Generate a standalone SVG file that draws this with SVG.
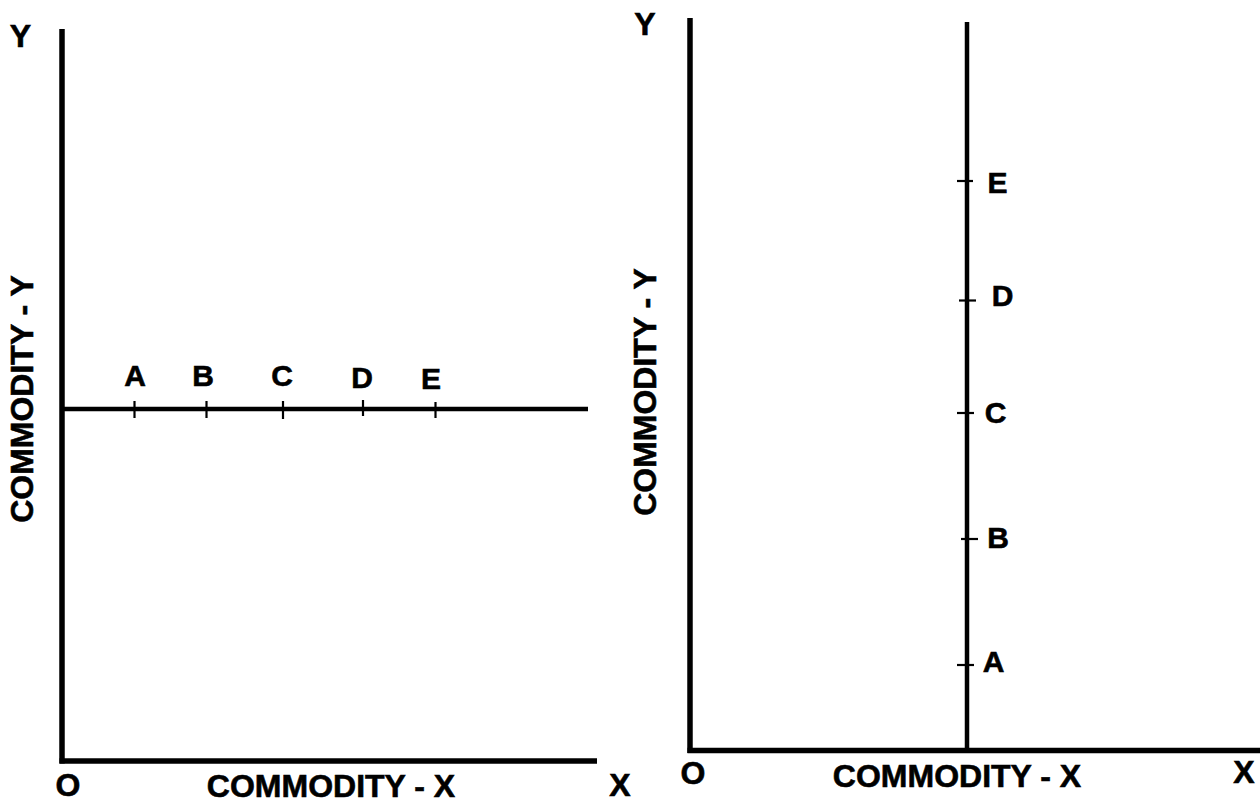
<svg xmlns="http://www.w3.org/2000/svg" width="1260" height="802" viewBox="0 0 1260 802">
<style>
.ax{stroke:#000;stroke-width:5.5;fill:none;stroke-linecap:butt}
.ln{stroke:#000;stroke-width:4.5;fill:none}
.tk{stroke:#000;stroke-width:2.2;fill:none}
text{font-family:"Liberation Sans",Arial,sans-serif;font-weight:bold;fill:#000;stroke:#000;stroke-width:0.6}
.big{font-size:32px}
.pt{font-size:30px}
</style>
<rect width="1260" height="802" fill="#fff"/>
<g id="left-chart">
  <g id="left-axes">
    <line class="ax" x1="62" y1="29" x2="62" y2="763.5"/>
    <line class="ax" x1="59.5" y1="761" x2="597" y2="761"/>
  </g>
  <g id="left-line">
    <line class="ln" x1="62" y1="409" x2="588" y2="409"/>
    <line class="tk" x1="134.5" y1="401" x2="134.5" y2="418"/>
    <line class="tk" x1="206.5" y1="401" x2="206.5" y2="418"/>
    <line class="tk" x1="283" y1="401" x2="283" y2="419"/>
    <line class="tk" x1="363" y1="400" x2="363" y2="416"/>
    <line class="tk" x1="435.5" y1="402" x2="435.5" y2="418"/>
  </g>
  <g id="left-labels">
    <text class="big" x="20.5" y="47" text-anchor="middle">Y</text>
    <text class="big" x="68" y="796" text-anchor="middle">O</text>
    <text class="big" x="331" y="797" text-anchor="middle">COMMODITY - X</text>
    <text class="big" x="620" y="796" text-anchor="middle">X</text>
    <text class="big" transform="translate(33,399) rotate(-90)" text-anchor="middle">COMMODITY - Y</text>
    <text class="pt" x="135" y="386" text-anchor="middle">A</text>
    <text class="pt" x="203" y="386" text-anchor="middle">B</text>
    <text class="pt" x="282" y="386" text-anchor="middle">C</text>
    <text class="pt" x="362" y="388" text-anchor="middle">D</text>
    <text class="pt" x="431" y="389" text-anchor="middle">E</text>
  </g>
</g>
<g id="right-chart">
  <g id="right-axes">
    <line class="ax" x1="690" y1="18" x2="690" y2="753"/>
    <line class="ax" x1="687.5" y1="750.5" x2="1260" y2="750.5"/>
  </g>
  <g id="right-line">
    <line class="ln" x1="967" y1="22" x2="967" y2="750"/>
    <line class="tk" x1="957" y1="181" x2="973" y2="181"/>
    <line class="tk" x1="959" y1="300.5" x2="976" y2="300.5"/>
    <line class="tk" x1="957" y1="413" x2="974" y2="413"/>
    <line class="tk" x1="961" y1="539" x2="978" y2="539"/>
    <line class="tk" x1="957" y1="665" x2="974" y2="665"/>
  </g>
  <g id="right-labels">
    <text class="big" x="645" y="35" text-anchor="middle">Y</text>
    <text class="big" x="693" y="784" text-anchor="middle">O</text>
    <text class="big" x="957" y="787" text-anchor="middle">COMMODITY - X</text>
    <text class="big" x="1244" y="783" text-anchor="middle">X</text>
    <text class="big" transform="translate(656,392) rotate(-90)" text-anchor="middle">COMMODITY - Y</text>
    <text class="pt" x="997.5" y="193" text-anchor="middle">E</text>
    <text class="pt" x="1002.5" y="306" text-anchor="middle">D</text>
    <text class="pt" x="995.5" y="423" text-anchor="middle">C</text>
    <text class="pt" x="998" y="548" text-anchor="middle">B</text>
    <text class="pt" x="993.5" y="672" text-anchor="middle">A</text>
  </g>
</g>
</svg>
